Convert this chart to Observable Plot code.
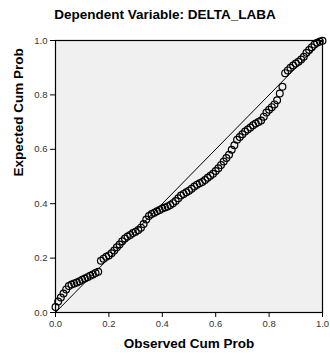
<!DOCTYPE html>
<html>
<head>
<meta charset="utf-8">
<script src="https://cdn.jsdelivr.net/npm/d3@7"></script>
<script src="https://cdn.jsdelivr.net/npm/@observablehq/plot@0.6"></script>
<style>
  body { margin: 0; background: white; font-family: "Liberation Sans", Arial, sans-serif; }
  #title { height: 28px; line-height: 29px; text-align: center; font-weight: 700; font-size: 13.5px; color: #000; width: 330px; font-family: "Liberation Sans", Arial, sans-serif; white-space: nowrap; }
</style>
</head>
<body>
<div id="title"><b>Dependent Variable: DELTA_LABA</b></div>
<div id="chart"></div>
<script>
const titleText = "Dependent Variable: DELTA_LABA";
const xLabel = "Observed Cum Prob";
const yLabel = "Expected Cum Prob";
const tickValues = [0, 0.2, 0.4, 0.6, 0.8, 1.0];
const refLine = [[0, 0], [1, 1]];

const observed = [
  0.00,0.01,0.02,0.03,0.04,0.05,0.06,0.07,0.08,0.09,
  0.10,0.11,0.12,0.13,0.14,0.15,0.16,0.17,0.18,0.19,
  0.20,0.21,0.22,0.23,0.24,0.25,0.26,0.27,0.28,0.29,
  0.30,0.31,0.32,0.33,0.34,0.35,0.36,0.37,0.38,0.39,
  0.40,0.41,0.42,0.43,0.44,0.45,0.46,0.47,0.48,0.49,
  0.50,0.51,0.52,0.53,0.54,0.55,0.56,0.57,0.58,0.59,
  0.60,0.61,0.62,0.63,0.64,0.65,0.66,0.67,0.68,0.69,
  0.70,0.71,0.72,0.73,0.74,0.75,0.76,0.77,0.78,0.79,
  0.80,0.81,0.82,0.83,0.84,0.85,0.86,0.87,0.88,0.89,
  0.90,0.91,0.92,0.93,0.94,0.95,0.96,0.97,0.98,0.99,1.00
];
const expected = [
  0.020,0.040,0.055,0.070,0.085,0.097,0.103,0.107,0.110,0.115,
  0.120,0.125,0.130,0.135,0.140,0.145,0.150,0.190,0.198,0.205,
  0.210,0.218,0.228,0.240,0.250,0.262,0.272,0.279,0.285,0.292,
  0.297,0.303,0.312,0.325,0.342,0.355,0.362,0.367,0.372,0.377,
  0.382,0.386,0.390,0.395,0.402,0.410,0.420,0.430,0.436,0.442,
  0.448,0.455,0.463,0.470,0.475,0.480,0.487,0.495,0.503,0.510,
  0.520,0.530,0.542,0.555,0.568,0.580,0.598,0.615,0.635,0.645,
  0.655,0.665,0.673,0.680,0.688,0.695,0.700,0.706,0.720,0.735,
  0.745,0.755,0.765,0.780,0.805,0.830,0.880,0.890,0.900,0.908,
  0.915,0.922,0.930,0.940,0.955,0.965,0.975,0.985,0.992,0.996,0.999
];

const points = observed.map((x, i) => ({x, y: expected[i]}));
const fmt = d3.format(".1f");

const chart = Plot.plot({
  width: 330,
  height: 330,
  marginTop: 12,
  marginLeft: 55,
  marginRight: 8,
  marginBottom: 46,
  x: {domain: [0, 1]},
  y: {domain: [0, 1]},
  style: {fontFamily: "'Liberation Sans', Arial, sans-serif", fontSize: "9.5px", background: "white", color: "#333", overflow: "visible"},
  marks: [
    Plot.frame({fill: "#f0f0f0", stroke: null}),
    Plot.axisX({ticks: tickValues, tickFormat: fmt, tickSize: 5, tickPadding: 3, label: null, stroke: "#000", strokeOpacity: 1}),
    Plot.axisY({ticks: tickValues, tickFormat: fmt, tickSize: 5, tickPadding: 3, label: null, stroke: "#000", strokeOpacity: 1}),
    Plot.line(refLine, {x: d => d[0], y: d => d[1], stroke: "#000", strokeWidth: 1}),
    Plot.dot(points, {x: "x", y: "y", r: 3.4, stroke: "#000", strokeWidth: 1.2, fill: "none"}),
    Plot.frame({stroke: "#000", strokeWidth: 1.2}),
    Plot.text([xLabel], {text: d => d, frameAnchor: "bottom", dy: 35, fontWeight: "bold", fontSize: 13.5, fill: "#000"}),
    Plot.text([yLabel], {text: d => d, frameAnchor: "left", dx: -37, rotate: -90, fontWeight: "bold", fontSize: 13.5, fill: "#000"})
  ]
});
document.getElementById("chart").appendChild(chart);
</script>
</body>
</html>
